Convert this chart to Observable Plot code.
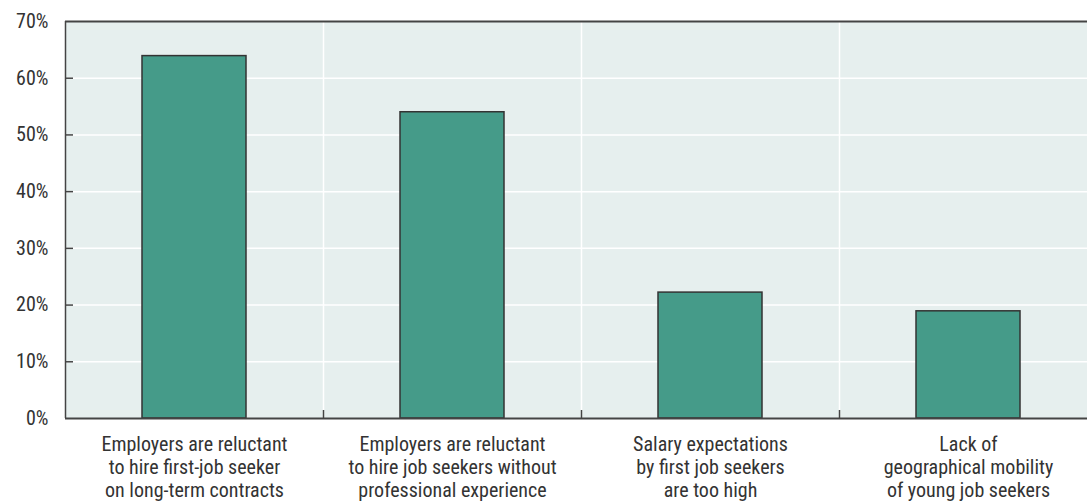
<!DOCTYPE html>
<html>
<head>
<meta charset="utf-8">
<script src="https://cdn.jsdelivr.net/npm/d3@7"></script>
<script src="https://cdn.jsdelivr.net/npm/@observablehq/plot@0.6"></script>
<style>
  html, body { margin: 0; padding: 0; background: #fff; overflow: hidden; }
  #chart svg { display: block; }
</style>
</head>
<body>
<div id="chart"></div>
<script>
// ---- data ----
const categories = [
  "Employers are reluctant\nto hire first-job seeker\non long-term contracts",
  "Employers are reluctant\nto hire job seekers without\nprofessional experience",
  "Salary expectations\nby first job seekers\nare too high",
  "Lack of\ngeographical mobility\nof young job seekers"
];
const values = [63.9, 54.0, 22.2, 18.9];
const yTicks = [0, 10, 20, 30, 40, 50, 60, 70];
const gridTicks = [10, 20, 30, 40, 50, 60];
const boundaries = [1, 2, 3];

const rows = categories.map((c, i) => ({label: c, i, value: values[i]}));

const FONT = '"Liberation Sans Narrow", "Roboto Condensed", "Arial Narrow", Roboto, sans-serif';
const BG = "#e6efee";
const BAR = "#459b89";
const DARK = "#444";

const chart = Plot.plot({
  width: 1087,
  height: 503,
  marginLeft: 65,
  marginRight: 0,
  marginTop: 21,
  marginBottom: 85,
  style: {fontFamily: FONT, fontSize: "20px", color: "#333", background: "#fff", fontStretch: "condensed"},
  x: {type: "linear", domain: [0, categories.length], range: [65, 65 + 258 * categories.length], axis: null, label: null},
  y: {domain: [0, 70], axis: null, label: null},
  marks: [
    Plot.frame({fill: BG, stroke: null}),
    Plot.ruleY(gridTicks, {stroke: "#fff", strokeWidth: 1.5}),
    Plot.ruleX(boundaries, {stroke: "#fff", strokeWidth: 1.5}),
    Plot.rectY(rows, {
      x1: "i", x2: d => d.i + 1, y1: 0, y2: "value",
      insetLeft: 77, insetRight: 77,
      fill: BAR, stroke: "#333", strokeWidth: 1.5
    }),
    Plot.axisX({ticks: boundaries, tickSize: -8, tickFormat: () => "", label: null, stroke: DARK, strokeWidth: 1.5}),
    Plot.axisY({ticks: gridTicks, tickSize: -8, tickFormat: () => "", label: null, stroke: DARK, strokeWidth: 1.5}),
    Plot.ruleY([0, 70], {stroke: DARK, strokeWidth: 2}),
    Plot.ruleX([0], {stroke: DARK, strokeWidth: 1.5}),
    Plot.axisY({ticks: yTicks, tickSize: 0, tickPadding: 17, tickFormat: d => d + "%", label: null, fontSize: 20, fill: "#333"}),
    Plot.text(rows, {
      x: d => d.i + 0.5, text: "label", frameAnchor: "bottom", lineAnchor: "top",
      dy: 16, lineHeight: 1.15, fontSize: 20, fill: "#333"
    })
  ]
});
document.getElementById("chart").appendChild(chart);
</script>
</body>
</html>
